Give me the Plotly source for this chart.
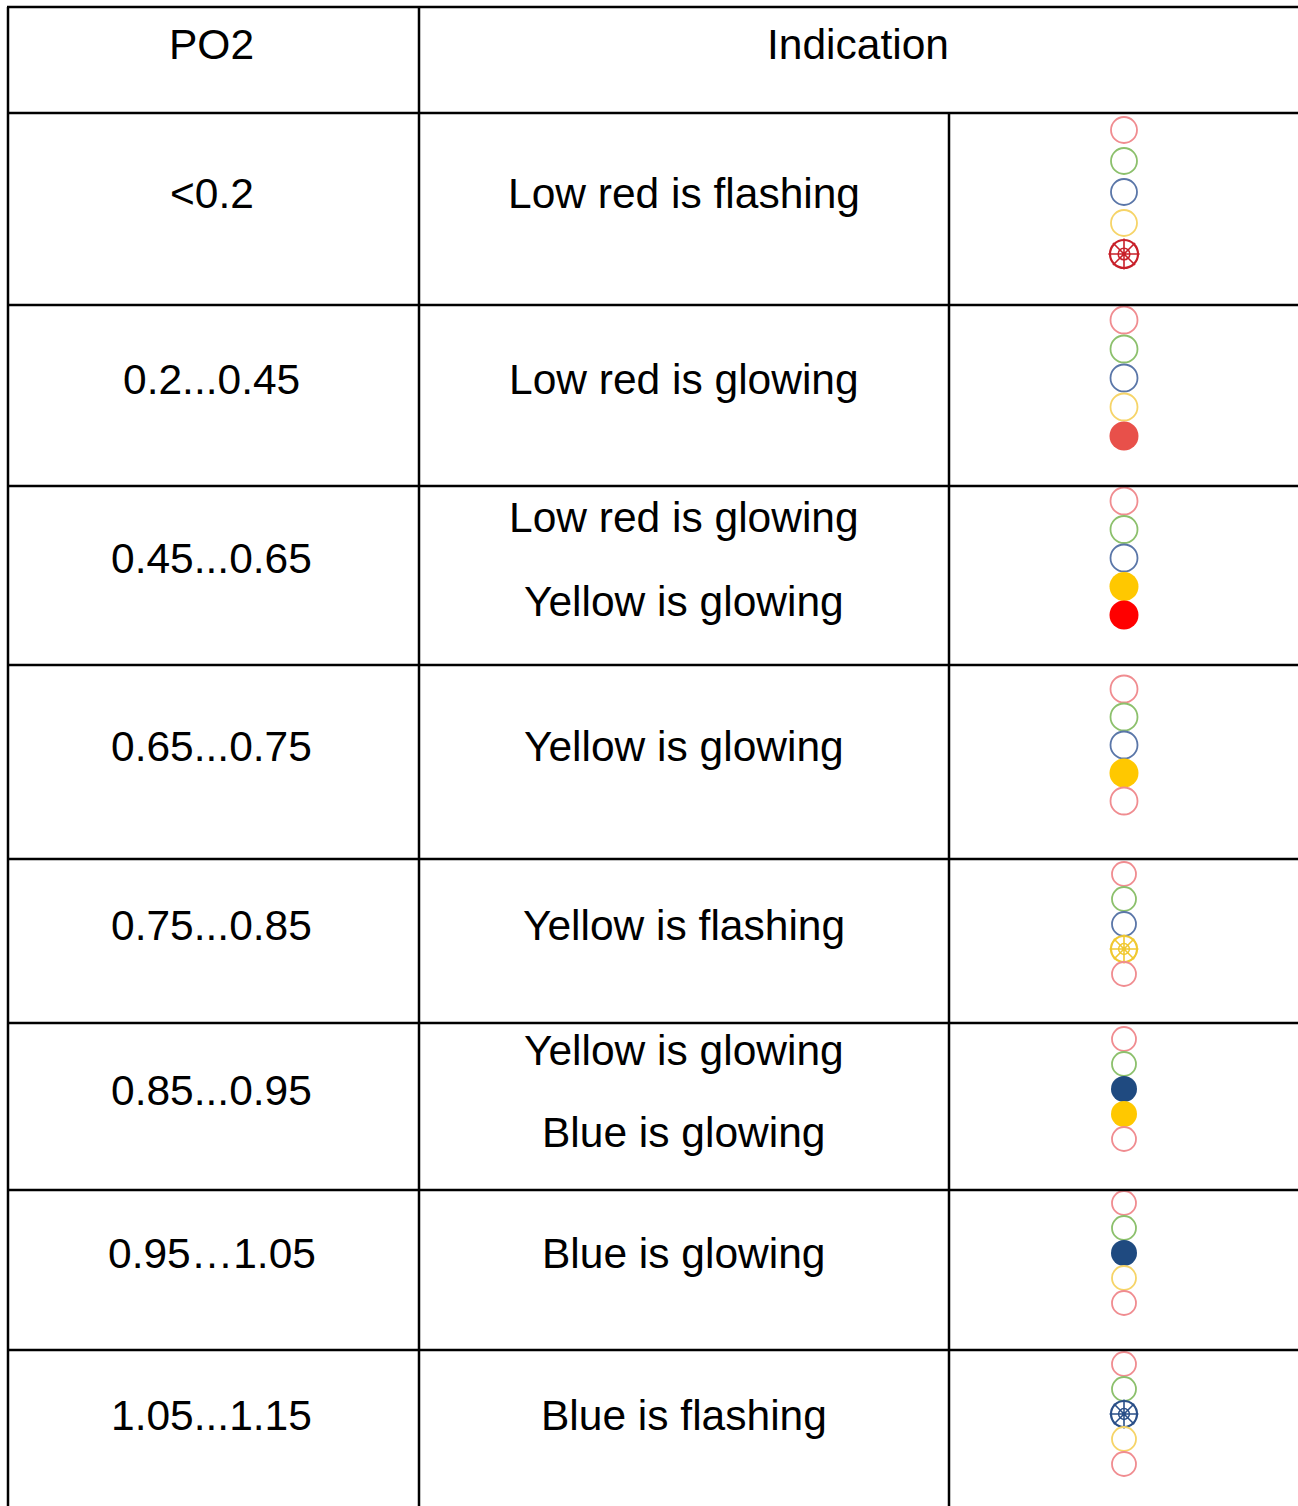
import plotly.graph_objects as go

# ---- data ----
header = ["PO2", "Indication"]
po2 = ["<0.2", "0.2...0.45", "0.45...0.65", "0.65...0.75", "0.75...0.85",
       "0.85...0.95", "0.95\u20261.05", "1.05...1.15"]
indications = [
    ["Low red is flashing"],
    ["Low red is glowing"],
    ["Low red is glowing", "Yellow is glowing"],
    ["Yellow is glowing"],
    ["Yellow is flashing"],
    ["Yellow is glowing", "Blue is glowing"],
    ["Blue is glowing"],
    ["Blue is flashing"],
]
# lamp order top->bottom: red, green, blue, yellow, low red
lamp_names = ["red", "green", "blue", "yellow", "lowred"]
states = [
    ["off", "off", "off", "off", "flash"],
    ["off", "off", "off", "off", "on"],
    ["off", "off", "off", "on", "on"],
    ["off", "off", "off", "on", "off"],
    ["off", "off", "off", "flash", "off"],
    ["off", "off", "on", "on", "off"],
    ["off", "off", "on", "off", "off"],
    ["off", "off", "flash", "off", "off"],
]

# ---- layout / style ----
W, H = 1298, 1506
row_lines = [7, 113, 305, 486, 665, 859, 1023, 1190, 1350]
col_lines = [8, 419, 949]
text_offsets = [[80], [74], [31, 115], [81], [66], [27, 109], [63], [65]]
po2_offsets = [80, 74, 72, 81, 66, 67, 63, 65]
lamp_first = [17, 15, 15, 24, 15, 16, 13, 14]
lamp_step = [31, 29, 28.5, 28, 25, 25, 25, 25]
lamp_size = [26, 27, 27, 27, 24, 24, 24, 24]
lamp_x = 1124

off_col = {"red": "#f08c90", "green": "#8cc06c", "blue": "#5a76a8",
           "yellow": "#f6d468", "lowred": "#f08c90"}
on_col = {"red": "#ff0000", "green": "#4caf50", "blue": "#1f4a80",
          "yellow": "#ffc800", "lowred": "#e8504a"}
on_col_override = {(2, 4): "#ff0000"}
flash_col = {"red": "#c8202a", "green": "#4caf50", "blue": "#2a4f88",
             "yellow": "#f0c830", "lowred": "#c8202a"}
font = dict(family="Liberation Sans, Arial, sans-serif", size=42.5, color="black")
LW = 2.5

fig = go.Figure()
shapes = []
ann = []

# grid lines
for y in row_lines:
    shapes.append(dict(type="line", x0=col_lines[0] - 1, x1=W, y0=y, y1=y,
                       line=dict(color="black", width=LW)))
shapes.append(dict(type="line", x0=col_lines[0], x1=col_lines[0], y0=row_lines[0], y1=H,
                   line=dict(color="black", width=LW)))
shapes.append(dict(type="line", x0=col_lines[1], x1=col_lines[1], y0=row_lines[0], y1=H,
                   line=dict(color="black", width=LW)))
shapes.append(dict(type="line", x0=col_lines[2], x1=col_lines[2], y0=row_lines[1], y1=H,
                   line=dict(color="black", width=LW)))

# header
ann.append(dict(x=(col_lines[0] + col_lines[1]) / 2 - 2, y=44, text=header[0]))
ann.append(dict(x=(col_lines[1] + W) / 2 - 1, y=44, text=header[1]))

c1 = (col_lines[0] + col_lines[1]) / 2 - 2
c2 = (col_lines[1] + col_lines[2]) / 2
for r in range(len(po2)):
    top = row_lines[r + 1]
    ann.append(dict(x=c1, y=top + po2_offsets[r], text=po2[r]))
    for t, off in zip(indications[r], text_offsets[r]):
        ann.append(dict(x=c2, y=top + off, text=t))
    for k, name in enumerate(lamp_names):
        y = top + lamp_first[r] + k * lamp_step[r]
        st = states[r][k]
        s = lamp_size[r]
        if st == "off":
            fig.add_trace(go.Scatter(x=[lamp_x], y=[y], mode="markers",
                                     marker=dict(symbol="circle-open", size=s,
                                                 color=off_col[name], line=dict(width=1.8)),
                                     hoverinfo="skip", showlegend=False))
        elif st == "on":
            col = on_col_override.get((r, k), on_col[name])
            fig.add_trace(go.Scatter(x=[lamp_x], y=[y], mode="markers",
                                     marker=dict(symbol="circle", size=s + 2,
                                                 color=col, line=dict(width=0)),
                                     hoverinfo="skip", showlegend=False))
        else:
            fc = flash_col[name]
            fig.add_trace(go.Scatter(x=[lamp_x], y=[y], mode="markers",
                                     marker=dict(symbol="circle-open", size=s + 2,
                                                 color=fc, line=dict(width=2.2)),
                                     hoverinfo="skip", showlegend=False))
            fig.add_trace(go.Scatter(x=[lamp_x], y=[y], mode="markers",
                                     marker=dict(symbol="asterisk-open", size=s,
                                                 color=fc, line=dict(width=1.6, color=fc)),
                                     hoverinfo="skip", showlegend=False))
            fig.add_trace(go.Scatter(x=[lamp_x], y=[y], mode="markers",
                                     marker=dict(symbol="circle-open", size=s * 0.45,
                                                 color=fc, line=dict(width=1.5)),
                                     hoverinfo="skip", showlegend=False))

for a in ann:
    a.update(xref="x", yref="y", showarrow=False, font=font,
             xanchor="center", yanchor="middle")

fig.update_layout(
    width=W, height=H,
    margin=dict(l=0, r=0, t=0, b=0),
    paper_bgcolor="white", plot_bgcolor="white",
    xaxis=dict(range=[0, W], visible=False, fixedrange=True),
    yaxis=dict(range=[H, 0], visible=False, fixedrange=True),
    shapes=shapes, annotations=ann, showlegend=False, hovermode=False,
)
fig.write_html("out.html", config={"displayModeBar": False, "staticPlot": True},
               post_script="document.body.style.margin='0';document.body.style.overflow='hidden';")
